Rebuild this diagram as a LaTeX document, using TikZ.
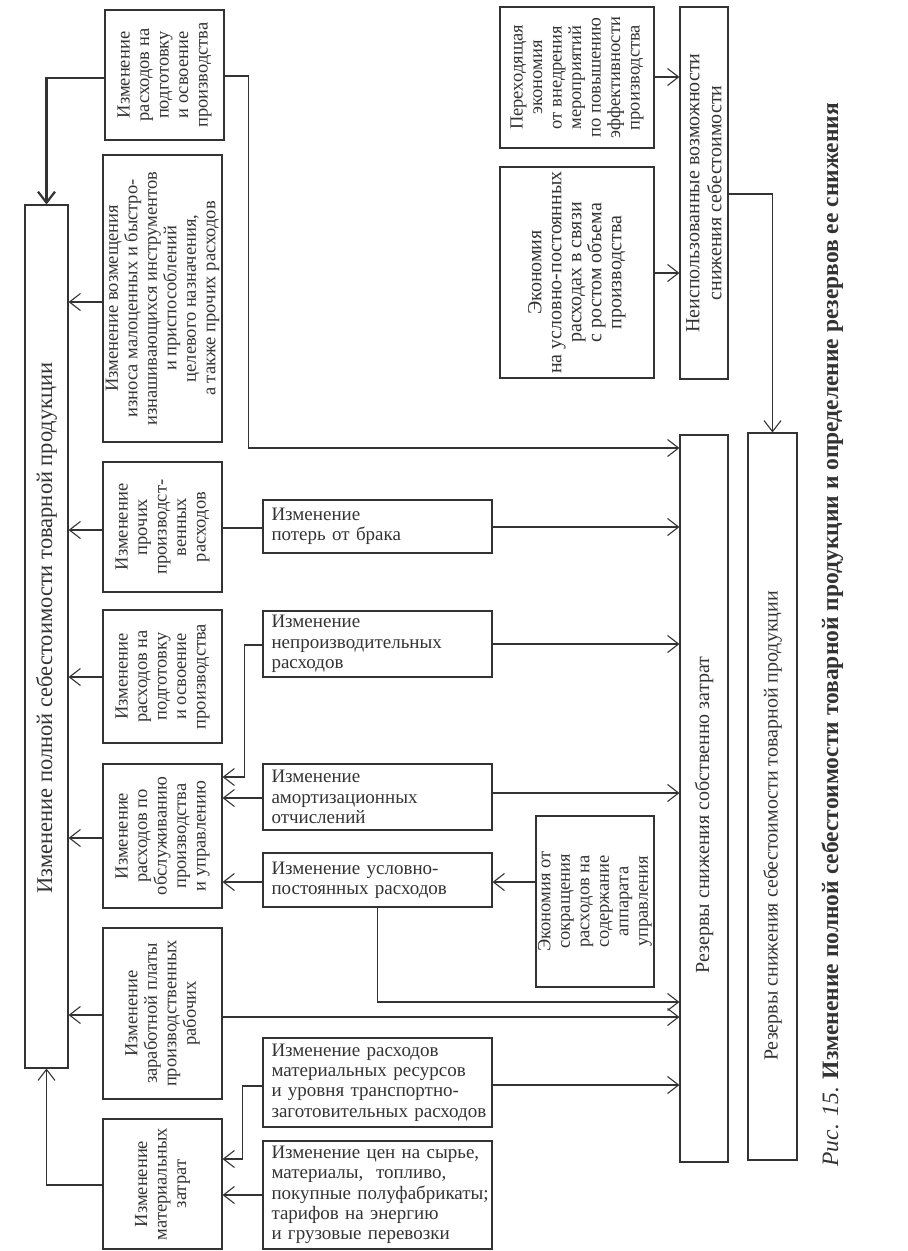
\documentclass[tikz,border=0pt]{standalone}
\usepackage{fontspec}
\setmainfont{Liberation Serif}
\setsansfont{Liberation Sans}
\usetikzlibrary{arrows.meta}
\usetikzlibrary{shapes}
\definecolor{inkgray}{HTML}{333333}
\newcommand{\boxfont}{\fontsize{18.5}{19.5}\selectfont}
\newcommand{\flatfont}{\fontsize{19}{20.4}\selectfont}
\newcommand{\bigfont}{\fontsize{20}{22}\selectfont}

\begin{document}
\begin{tikzpicture}[x = 1pt, y = -1pt, color = inkgray, line width = 1.1pt]
	\tikzstyle{sideBox} = [draw, rotate = 90, inner sep = 0pt, align = center, font = \boxfont]
	\tikzstyle{flatBox} = [draw, align = left, text width = 228pt, inner xsep = 0.5pt, inner ysep = 0pt, minimum width = 229pt, font = \flatfont, execute at begin node = {\leftskip = 8pt\relax}]
	\tikzstyle{longBox} = [draw, rotate = 90, inner sep = 0pt, align = center, font = \bigfont]
	\tikzstyle{link} = [-{Straight Barb[length = 11pt, width = 17pt]}]
	\tikzstyle{thickLink} = [link, line width = 2.2pt]
	\useasboundingbox (0, 0) rectangle (908, 1251);
	\node[longBox, minimum width = 863pt, minimum height = 43pt, font = \fontsize{22.5}{24}\selectfont] (costBox) at (46.5, 636.5) {Изменение полной себестоимости товарной продукции\hspace*{-17pt}};
	\node[sideBox, minimum width = 130pt, minimum height = 119pt] (prepTop) at (164.5, 75) {Изменение\\расходов на\\подготовку\\и освоение\\производства};
	\node[sideBox, minimum width = 287pt, minimum height = 119pt] (wearBox) at (162.5, 298.5) {Изменение возмещения\\износа малоценных и быстро-\\изнашивающихся инструментов\\и приспособлений\\целевого назначения,\\а также прочих расходов};
	\node[sideBox, minimum width = 130pt, minimum height = 119pt] (otherBox) at (162.5, 527) {Изменение\\прочих\\производст-\\венных\\расходов};
	\node[sideBox, minimum width = 133pt, minimum height = 119pt] (prepBox) at (162.5, 676.5) {Изменение\\расходов на\\подготовку\\и освоение\\производства};
	\node[sideBox, minimum width = 144pt, minimum height = 119pt] (serviceBox) at (162.5, 836) {Изменение\\расходов по\\обслуживанию\\производства\\и управлению};
	\node[sideBox, minimum width = 171pt, minimum height = 119pt] (wageBox) at (162.5, 1013.5) {Изменение\\заработной платы\\производственных\\рабочих};
	\node[sideBox, minimum width = 130pt, minimum height = 119pt] (matBox) at (162.5, 1184) {Изменение\\материальных\\затрат};
	\node[flatBox, minimum height = 53pt] (scrapBox) at (377.5, 526.5) {Изменение\\потерь от брака};
	\node[flatBox, minimum height = 66pt] (unprodBox) at (377.5, 644) {Изменение\\непроизводительных\\расходов};
	\node[flatBox, minimum height = 66pt] (amortBox) at (377.5, 797) {Изменение\\амортизационных\\отчислений};
	\node[flatBox, minimum height = 54pt] (fixedBox) at (377.5, 880) {Изменение условно-\\постоянных расходов};
	\node[flatBox, minimum height = 89pt] (resBox) at (377.5, 1082.5) {Изменение расходов\\материальных ресурсов\\и уровня транспортно-\\заготовительных расходов};
	\node[flatBox, minimum height = 108pt] (priceBox) at (377.5, 1195) {Изменение цен на сырье,\\материалы,\ \ топливо,\\покупные полуфабрикаты;\\тарифов на энергию\\и грузовые перевозки};
	\node[sideBox, minimum width = 171pt, minimum height = 118pt] (adminBox) at (595, 901.5) {Экономия от\\сокращения\\расходов на\\содержание\\аппарата\\управления};
	\node[sideBox, minimum width = 211pt, minimum height = 154pt, font = \fontsize{20}{20}\selectfont] (volBox) at (577, 272.5) {Экономия\\на условно-постоянных\\расходах в связи\\с ростом объема\\производства};
	\node[sideBox, minimum width = 141pt, minimum height = 154pt] (carryBox) at (577, 77.5) {Переходящая\\экономия\\от внедрения\\мероприятий\\по повышению\\эффективности\\производства};
	\node[longBox, minimum width = 372pt, minimum height = 48pt] (unusedBox) at (704, 193) {Неиспользованные возможности\\снижения себестоимости};
	\node[longBox, minimum width = 727pt, minimum height = 48pt] (ownBox) at (704, 798.5) {Резервы снижения собственно затрат\hspace*{33pt}};
	\node[longBox, minimum width = 727pt, minimum height = 49pt] (totalBox) at (772.5, 796.5) {Резервы снижения себестоимости товарной продукции\hspace*{59pt}};
	\node[rotate = 90, anchor = base west, inner sep = 0pt, font = \fontsize{23.5}{25}\selectfont] (caption) at (838, 1167) {\textit{Рис. 15.} \textbf{Изменение полной себестоимости товарной продукции и определение резервов ее снижения}};
	\draw[thickLink] (prepTop.north |- 0, 78) -| (costBox.east);
	\draw[link] (prepTop.south |- 0, 76) -- ++(24, 0) |- (ownBox.north |- 0, 448);
	\draw[link] (wearBox.north |- 0, 302) -- (costBox.south |- 0, 302);
	\draw[link] (otherBox.north |- 0, 530) -- (costBox.south |- 0, 530);
	\draw[link] (prepBox.north |- 0, 677) -- (costBox.south |- 0, 677);
	\draw[link] (serviceBox.north |- 0, 838) -- (costBox.south |- 0, 838);
	\draw[link] (wageBox.north |- 0, 1015) -- (costBox.south |- 0, 1015);
	\draw[link] (matBox.north |- 0, 1185) -| (costBox.west);
	\draw (otherBox.south |- 0, 528) -- (scrapBox.west |- 0, 528);
	\draw[link] (scrapBox.east |- 0, 527) -- (ownBox.north |- 0, 527);
	\draw[link] (unprodBox.west |- 0, 645) -- ++(-18, 0) |- (serviceBox.south |- 0, 777);
	\draw[link] (unprodBox.east |- 0, 644) -- (ownBox.north |- 0, 644);
	\draw[link] (amortBox.west |- 0, 798) -- (serviceBox.south |- 0, 798);
	\draw[link] (amortBox.east |- 0, 793) -- (ownBox.north |- 0, 793);
	\draw[link] (fixedBox.west |- 0, 882) -- (serviceBox.south |- 0, 882);
	\draw[link] (adminBox.north |- 0, 882) -- (fixedBox.east |- 0, 882);
	\draw[link] (fixedBox.south) |- (ownBox.north |- 0, 1002);
	\draw[link] (wageBox.south |- 0, 1017) -- (ownBox.north |- 0, 1017);
	\draw[link] (resBox.west |- 0, 1086) -- ++(-20, 0) |- (matBox.south |- 0, 1159);
	\draw[link] (resBox.east |- 0, 1085) -- (ownBox.north |- 0, 1085);
	\draw[link] (priceBox.west |- 0, 1195) -- (matBox.south |- 0, 1195);
	\draw[link] (volBox.south |- 0, 273) -- (unusedBox.north |- 0, 273);
	\draw[link] (carryBox.south |- 0, 77) -- (unusedBox.north |- 0, 77);
	\draw[link] (unusedBox.south |- 0, 194) -| (totalBox.east);
\end{tikzpicture}
\end{document}
